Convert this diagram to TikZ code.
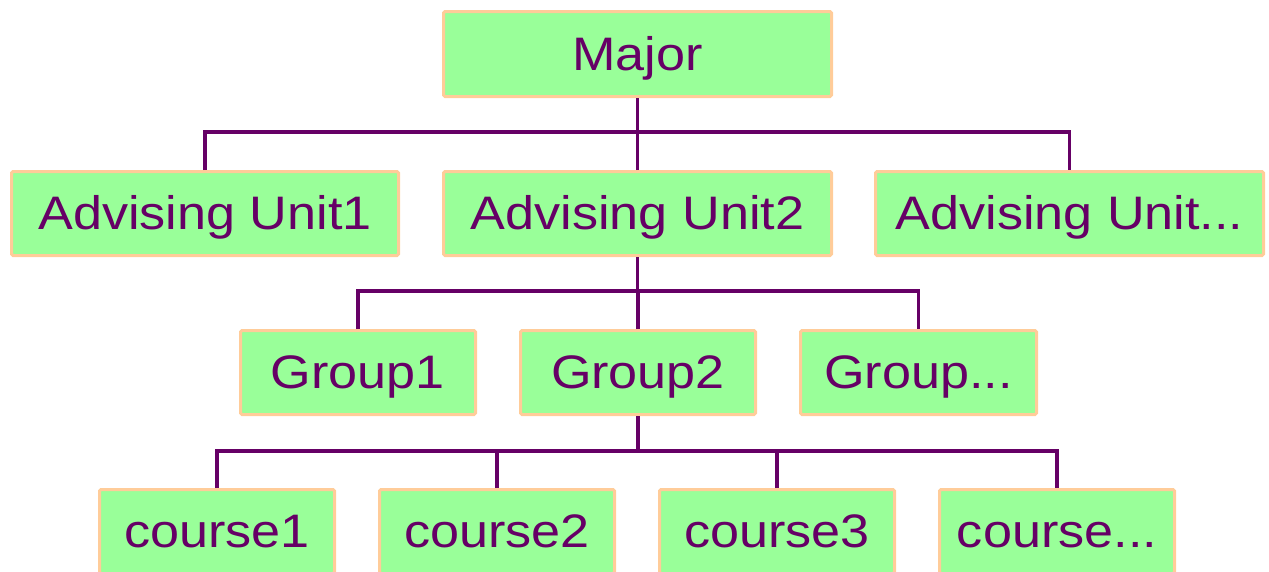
\documentclass[tikz,border=0pt]{standalone}
\usepackage{fontspec}
\setmainfont{Liberation Sans}
\newfontfamily\boxfont[FakeStretch=1.11]{Liberation Sans}
\definecolor{boxfill}{HTML}{99FF99}
\definecolor{boxedge}{HTML}{FFCC99}
\definecolor{ink}{HTML}{660066}
\begin{document}
\begin{tikzpicture}[x=1pt,y=-1pt,
  box/.style={draw=boxedge,fill=boxfill,line width=3pt,rounded corners=1.5pt,
    text=ink,font=\boxfont\fontsize{47}{50}\selectfont,inner sep=0pt,
    text height=40pt,text depth=8pt,anchor=north west},
  link/.style={draw=ink,line width=3.3pt}]
\useasboundingbox (0,0) rectangle (1269,571);
\begin{scope}
\clip (0,0) rectangle (1269,571);
% row 1
\node[box,minimum width=388pt,minimum height=85pt] (major) at (442,10) {Major};
% row 2
\node[box,minimum width=387pt,minimum height=84pt] (au1) at (10,170) {Advising Unit1};
\node[box,minimum width=388pt,minimum height=84pt] (au2) at (442,170) {Advising Unit2};
\node[box,minimum width=388pt,minimum height=84pt] (au3) at (874,170) {Advising Unit...};
% row 3
\node[box,minimum width=235pt,minimum height=84pt] (g1) at (239,329) {Group1};
\node[box,minimum width=235pt,minimum height=84pt] (g2) at (519,329) {Group2};
\node[box,minimum width=236pt,minimum height=84pt] (g3) at (799,329) {Group...};
% row 4
\node[box,minimum width=235pt,minimum height=84pt] (c1) at (98,488) {course1};
\node[box,minimum width=235pt,minimum height=84pt] (c2) at (378,488) {course2};
\node[box,minimum width=235pt,minimum height=84pt] (c3) at (658,488) {course3};
\node[box,minimum width=235pt,minimum height=84pt] (c4) at (938,488) {course...};
% connectors
\coordinate (j1) at (0,132);
\coordinate (j2) at (0,291);
\coordinate (j3) at (0,451);
\draw[link] (major.south) -- (major.south |- j1);
\draw[link] (au1.north) -- (au1.north |- j1) -- (au3.north |- j1) -- (au3.north);
\draw[link] (au2.north) -- (au2.north |- j1);
\draw[link] (au2.south) -- (au2.south |- j2);
\draw[link] (g1.north) -- (g1.north |- j2) -- (g3.north |- j2) -- (g3.north);
\draw[link] (g2.north) -- (g2.north |- j2);
\draw[link] (g2.south) -- (g2.south |- j3);
\draw[link] (c1.north) -- (c1.north |- j3) -- (c4.north |- j3) -- (c4.north);
\draw[link] (c2.north) -- (c2.north |- j3);
\draw[link] (c3.north) -- (c3.north |- j3);
\end{scope}
\end{tikzpicture}
\end{document}
